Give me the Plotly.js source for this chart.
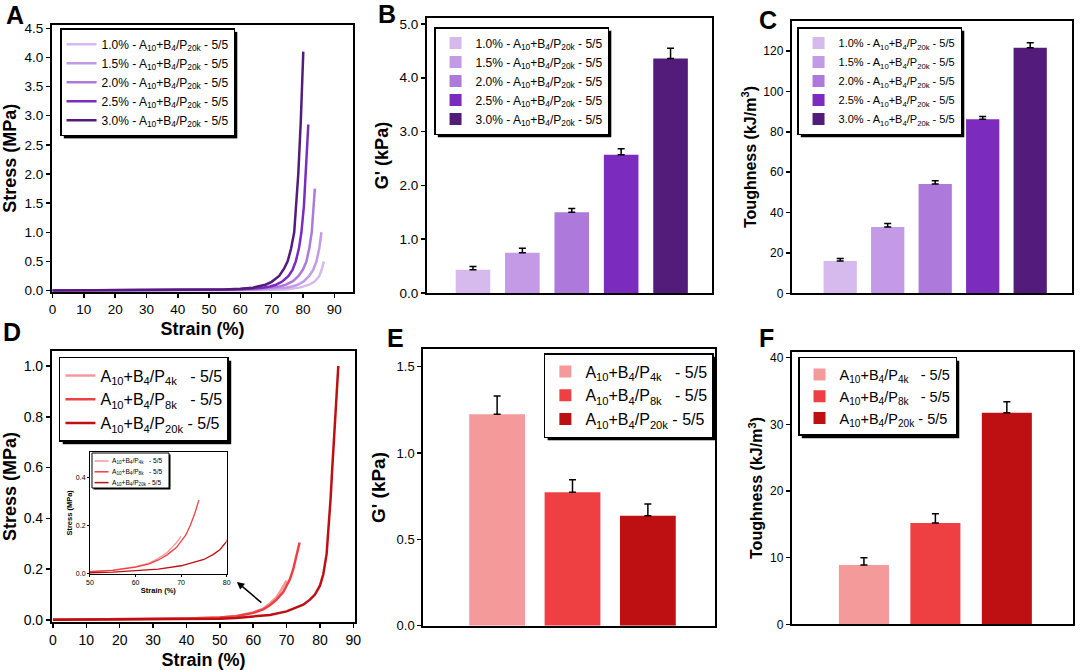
<!DOCTYPE html>
<html>
<head>
<meta charset="utf-8">
<script src="https://cdn.plot.ly/plotly-3.0.1.min.js"></script>
<style>
  html, body { margin: 0; padding: 0; background: #fff; }
  #chart { width: 1080px; height: 670px; }
</style>
</head>
<body>
<div id="chart"></div>
<script>
const W = 1080, H = 670;
const FONT = "Arial, 'Liberation Sans', sans-serif";

const PURPLES = ["#d6baee", "#c49ae6", "#ad79db", "#7b2cbe", "#541c7a"];
const REDS = ["#f49a9b", "#ee3f43", "#be1013"];

const concLabels = ["1.0%", "1.5%", "2.0%", "2.5%", "3.0%"];
const molLabels = ["4k", "8k", "20k"];

// A: stress-strain, varying concentration (P20k)
const strainA = [
  [0, 10, 20, 30, 40, 50, 55, 60, 65, 70, 74.5, 78.8, 80.5, 82, 83.8, 85.2, 86, 86.7],
  [0, 10, 20, 30, 40, 50, 55, 60, 65, 70, 74.5, 76.5, 78.3, 80.3, 82, 83.3, 84.3, 85.2, 85.9],
  [0, 10, 20, 30, 40, 50, 55, 60, 65, 70.3, 72.5, 74.5, 76.8, 78.6, 80, 81.1, 82, 82.8, 83.3, 83.8],
  [0, 10, 20, 30, 40, 50, 55, 60, 63, 67.1, 69.5, 71.4, 73.5, 75.4, 76.7, 77.7, 78.7, 79.5, 80.3, 80.9, 81.7],
  [0, 10, 20, 30, 40, 50, 55, 60, 64, 68, 70, 72.4, 74, 75.1, 76.2, 77.2, 78.5, 79.3, 80.1]
];
const stressA = [
  [0.001, 0.001, 0.001, 0.002, 0.003, 0.004, 0.005, 0.007, 0.01, 0.015, 0.02, 0.05, 0.07, 0.1, 0.16, 0.25, 0.36, 0.5],
  [0.001, 0.001, 0.002, 0.003, 0.004, 0.006, 0.008, 0.011, 0.017, 0.028, 0.05, 0.07, 0.1, 0.16, 0.25, 0.36, 0.5, 0.72, 1.0],
  [0.001, 0.002, 0.003, 0.005, 0.007, 0.009, 0.012, 0.016, 0.025, 0.05, 0.07, 0.1, 0.16, 0.25, 0.36, 0.5, 0.72, 1.0, 1.35, 1.75],
  [0.002, 0.003, 0.005, 0.007, 0.009, 0.012, 0.016, 0.022, 0.03, 0.05, 0.07, 0.1, 0.16, 0.25, 0.36, 0.5, 0.72, 1.0, 1.45, 2.0, 2.85],
  [0.002, 0.004, 0.006, 0.008, 0.011, 0.016, 0.02, 0.03, 0.05, 0.1, 0.15, 0.25, 0.38, 0.5, 0.72, 1.0, 2.0, 2.9, 4.1]
];

// B, C: bars by concentration
const gPrimeConc = [0.43, 0.75, 1.50, 2.57, 4.36];
const gPrimeConcErr = [0.06, 0.08, 0.07, 0.11, 0.19];
const toughConc = [16.0, 32.8, 54.1, 86.2, 121.6];
const toughConcErr = [1.3, 1.8, 1.7, 1.3, 2.5];

// D: stress-strain, varying PEG molecular weight
const strainD = [
  [0, 10, 20, 30, 40, 50, 55, 60, 63, 65, 67, 68, 69, 70],
  [0, 10, 20, 30, 40, 50, 55, 60, 63, 65, 67, 69, 70, 71, 72, 73, 73.9],
  [0, 10, 20, 30, 40, 50, 55, 60, 65, 70, 73, 75, 77, 78.5, 80, 81, 82, 82.6, 83.2, 83.7, 84.2, 84.6, 85.1, 85.5]
];
const stressD = [
  [0.001, 0.002, 0.003, 0.004, 0.006, 0.01, 0.016, 0.03, 0.045, 0.065, 0.09, 0.11, 0.13, 0.155],
  [0.001, 0.002, 0.003, 0.004, 0.006, 0.01, 0.015, 0.028, 0.042, 0.058, 0.08, 0.11, 0.135, 0.16, 0.2, 0.25, 0.305],
  [0.0005, 0.001, 0.0015, 0.002, 0.003, 0.005, 0.008, 0.013, 0.02, 0.034, 0.048, 0.06, 0.08, 0.1, 0.135, 0.18, 0.26, 0.36, 0.48, 0.6, 0.72, 0.82, 0.92, 1.0]
];

// E, F: bars by molecular weight
const gPrimeMol = [1.224, 0.772, 0.637];
const gPrimeMolErr = [0.106, 0.073, 0.068];
const toughMol = [8.9, 15.2, 31.75];
const toughMolErr = [1.1, 1.4, 1.65];

const concName = c => `${c} - A<sub>10</sub>+B<sub>4</sub>/P<sub>20k</sub> - 5/5`;
const molName = m => `A<sub>10</sub>+B<sub>4</sub>/P<sub>${m}</sub>` + (m === "20k" ? " - 5/5" : "\u00a0\u00a0 - 5/5");

const traces = [];

concLabels.forEach((c, i) => {
  traces.push({
    x: strainA[i], y: stressA[i], type: "scatter", mode: "lines",
    name: concName(c), line: {color: PURPLES[i], width: 2.5},
    xaxis: "x", yaxis: "y", legend: "legend"
  });
});

function barTrace(label, name, val, err, color, width, ax, leg) {
  return {
    x: [label], y: [val], type: "bar", name: name, width: width,
    marker: {color: color, line: {width: 0}},
    error_y: {type: "data", array: [err], arrayminus: [0], symmetric: false,
              color: "#000", thickness: 1.5, width: 3.5},
    xaxis: "x" + ax, yaxis: "y" + ax, legend: leg
  };
}

concLabels.forEach((c, i) => {
  traces.push(barTrace(c, concName(c), gPrimeConc[i], gPrimeConcErr[i], PURPLES[i], 0.7, 2, "legend2"));
});
concLabels.forEach((c, i) => {
  traces.push(barTrace(c, concName(c), toughConc[i], toughConcErr[i], PURPLES[i], 0.7, 3, "legend3"));
});

molLabels.forEach((m, i) => {
  traces.push({
    x: strainD[i], y: stressD[i], type: "scatter", mode: "lines",
    name: molName(m), line: {color: REDS[i], width: 2.5},
    xaxis: "x4", yaxis: "y4", legend: "legend4"
  });
});
// inset: same curves, zoomed (its small legend is drawn by hand below)
molLabels.forEach((m, i) => {
  traces.push({
    x: strainD[i], y: stressD[i], type: "scatter", mode: "lines",
    name: molName(m), line: {color: REDS[i], width: 1.3},
    xaxis: "x5", yaxis: "y5", showlegend: false
  });
});

molLabels.forEach((m, i) => {
  traces.push(barTrace(m, molName(m), gPrimeMol[i], gPrimeMolErr[i], REDS[i], 0.74, 6, "legend6"));
});
molLabels.forEach((m, i) => {
  traces.push(barTrace(m, molName(m), toughMol[i], toughMolErr[i], REDS[i], 0.7, 7, "legend7"));
});

function frameAxis(extra, fontSize) {
  return Object.assign({
    showline: true, mirror: true, linecolor: "#000", linewidth: 2,
    showgrid: false, zeroline: false,
    ticks: "outside", ticklen: 4, tickwidth: 1.5, tickcolor: "#000",
    tickfont: {family: FONT, size: fontSize || 13.5, color: "#000"}
  }, extra);
}
function axTitle(text, size, standoff) {
  return {text: `<b>${text}</b>`, font: {family: FONT, size: size, color: "#000"}, standoff: standoff};
}
function catAxis(extra) {
  return frameAxis(Object.assign({type: "category", ticks: "", showticklabels: false}, extra));
}
function legendBox(x, y, size, xanchor) {
  return {
    x: x, y: y, xref: "paper", yref: "paper", xanchor: xanchor || "left", yanchor: "top",
    bgcolor: "#fff", bordercolor: "#000", borderwidth: 1.5,
    font: {family: FONT, size: size, color: "#000"}, itemwidth: 30
  };
}

// hand-drawn legend of the inset (pixel layout -> paper coords)
const px = v => v / W, py = v => 1 - v / H;
const insetShapes = [
  {type: "rect", xref: "paper", yref: "paper", x0: px(93.5), x1: px(170.5), y0: py(489.5), y1: py(454.5),
   fillcolor: "#000", line: {width: 0}},
  {type: "rect", xref: "paper", yref: "paper", x0: px(92), x1: px(169), y0: py(488), y1: py(453),
   fillcolor: "#fff", line: {color: "#000", width: 1}}
];
const insetText = [];
molLabels.forEach((m, i) => {
  const rowY = 461 + i * 10.8;
  insetShapes.push({type: "line", xref: "paper", yref: "paper", x0: px(94.5), x1: px(108.5),
    y0: py(rowY), y1: py(rowY), line: {color: REDS[i], width: 1.5}});
  insetText.push({text: molName(m), xref: "paper", yref: "paper", x: px(109.5), y: py(rowY),
    xanchor: "left", yanchor: "middle", showarrow: false,
    font: {family: FONT, size: 6.6, color: "#000"}});
});

const layout = {
  width: W, height: H,
  margin: {l: 0, r: 0, t: 0, b: 0, autoexpand: false},
  paper_bgcolor: "#fff", plot_bgcolor: "rgba(0,0,0,0)",
  showlegend: true, hovermode: false, barmode: "overlay",

  xaxis: frameAxis({domain: [0.0481, 0.3269], range: [-0.2, 96], dtick: 10, tick0: 0,
    title: axTitle("Strain (%)", 18, 6)}),
  yaxis: frameAxis({domain: [0.5646, 0.9627], range: [-0.02, 4.557], dtick: 0.5, tickformat: ".1f",
    title: axTitle("Stress (MPa)", 18, 5)}),

  xaxis2: catAxis({domain: [0.3954, 0.6593], range: [-0.93, 4.84], anchor: "y2"}),
  yaxis2: frameAxis({domain: [0.5627, 0.9731], range: [0, 5.11], dtick: 1, tickformat: ".1f", anchor: "x2",
    title: axTitle("G' (kPa)", 18, 6)}),

  xaxis3: catAxis({domain: [0.7331, 0.9926], range: [-1.02, 4.88], anchor: "y3"}),
  yaxis3: frameAxis({domain: [0.5622, 0.9691], range: [0, 135], dtick: 20, anchor: "x3",
    title: axTitle("Toughness (kJ/m<sup>3</sup>)", 16, 3)}, 12),

  xaxis4: frameAxis({domain: [0.0481, 0.3287], range: [-0.3, 90.5], dtick: 10, tick0: 0, anchor: "y4",
    title: axTitle("Strain (%)", 18, 7)}, 14),
  yaxis4: frameAxis({domain: [0.0716, 0.4761], range: [-0.008, 1.059], dtick: 0.2, tickformat: ".1f", anchor: "x4",
    title: axTitle("Stress (MPa)", 18, 5)}, 14),

  xaxis5: frameAxis({domain: [0.0833, 0.2099], range: [50, 80], dtick: 10, anchor: "y5",
    linewidth: 1, ticklen: 2, tickwidth: 1,
    title: axTitle("Strain (%)", 7.5, 2)}, 7),
  yaxis5: frameAxis({domain: [0.1433, 0.3258], range: [0, 0.505], dtick: 0.2, tickformat: ".1f", anchor: "x5",
    linewidth: 1, ticklen: 2, tickwidth: 1,
    title: axTitle("Stress (MPa)", 7.5, 2)}, 7),

  xaxis6: catAxis({domain: [0.3919, 0.6620], range: [-0.98, 2.89], anchor: "y6"}),
  yaxis6: frameAxis({domain: [0.0661, 0.4787], range: [0, 1.60], dtick: 0.5, tickformat: ".1f", anchor: "x6",
    title: axTitle("G' (kPa)", 19, 6)}, 13),

  xaxis7: catAxis({domain: [0.7331, 0.9938], range: [-1.01, 2.93], anchor: "y7"}),
  yaxis7: frameAxis({domain: [0.0682, 0.4751], range: [0, 40.9], dtick: 10, anchor: "x7",
    title: axTitle("Toughness (kJ/m<sup>3</sup>)", 16, 3)}, 12),

  legend: legendBox(0.0556, 0.958, 12),
  legend2: legendBox(0.4019, 0.9597, 12),
  legend3: legendBox(0.738, 0.9597, 11),
  legend4: legendBox(0.0546, 0.4672, 16),
  legend6: legendBox(0.661, 0.4731, 16, "right"),
  legend7: legendBox(0.7389, 0.4672, 14.5),

  shapes: insetShapes,
  annotations: [
    ["A", 15, 15], ["B", 387, 14], ["C", 768, 20],
    ["D", 12, 332], ["E", 395, 338], ["F", 766, 338]
  ].map(([t, x, y]) => ({
    text: `<b>${t}</b>`, xref: "paper", yref: "paper", x: px(x), y: py(y),
    xanchor: "center", yanchor: "middle", showarrow: false,
    font: {family: FONT, size: 25, color: "#000"}
  })).concat(insetText).concat([{
    // arrow pointing from main curves to the inset
    xref: "x4", yref: "y4", x: 55.1, y: 0.15, ax: 26, ay: 22, text: "",
    showarrow: true, arrowhead: 2, arrowsize: 1, arrowwidth: 1.5, arrowcolor: "#000"
  }])
};

const LEGEND_IDS = ["legend", "legend2", "legend3", "legend4", "legend6", "legend7"];

// black drop shadow behind each legend box: a shifted copy of its background rect,
// resized every call since plotly can resize the legend after the first pass
function syncShadows(gd) {
  LEGEND_IDS.forEach(id => {
    const g = gd.querySelector(`g.${id}`);
    if (!g) return;
    const bg = g.querySelector("rect.bg");
    if (!bg) return;
    let sh = g.querySelector("rect.shadow");
    if (!sh) {
      sh = document.createElementNS("http://www.w3.org/2000/svg", "rect");
      sh.setAttribute("class", "shadow");
      sh.style.fill = "#000";
      bg.parentNode.insertBefore(sh, bg);
    }
    ["x", "y", "width", "height"].forEach(a => sh.setAttribute(a, bg.getAttribute(a) || 0));
    sh.setAttribute("transform", "translate(3,3)");
  });
}

const gd = document.getElementById("chart");
Plotly.newPlot(gd, traces, layout, {staticPlot: true}).then(syncShadows);
syncShadows(gd);
setTimeout(() => syncShadows(gd), 0);
setTimeout(() => syncShadows(gd), 300);
</script>
</body>
</html>
